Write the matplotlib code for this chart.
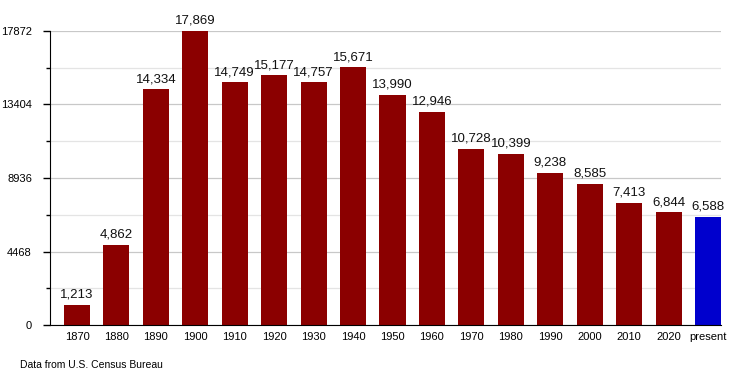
import matplotlib
matplotlib.use("Agg")
import matplotlib.pyplot as plt
from matplotlib.ticker import FixedLocator

years = ["1870", "1880", "1890", "1900", "1910", "1920", "1930", "1940", "1950",
         "1960", "1970", "1980", "1990", "2000", "2010", "2020", "present"]
population = [1213, 4862, 14334, 17869, 14749, 15177, 14757, 15671, 13990,
              12946, 10728, 10399, 9238, 8585, 7413, 6844, 6588]
major_ticks = [0, 4468, 8936, 13404, 17872]
minor_ticks = [2234, 6702, 11170, 15638]

plt.rcParams['font.family'] = ['Liberation Sans', 'DejaVu Sans']

fig = plt.figure(figsize=(7.5, 3.75), dpi=100)
ax = fig.add_axes([50/750, 50/375, 671/750, 294/375])

colors = ["#8b0000"] * (len(years) - 1) + ["#0000cd"]
x = list(range(len(years)))
ax.bar(x, population, width=0.66, color=colors, zorder=3)

for xi, v in zip(x, population):
    ax.text(xi, v + 250, f"{v:,}", ha="center", va="bottom", fontsize=9.5, color="#111")

ax.set_xlim(-0.685, len(years) - 1 + 0.33)
ax.set_ylim(0, 17872)
ax.yaxis.set_major_locator(FixedLocator(major_ticks))
ax.yaxis.set_minor_locator(FixedLocator(minor_ticks))
ax.set_yticklabels([str(t) for t in major_ticks], fontsize=8)
ax.set_xticks(x)
ax.set_xticklabels(years, fontsize=8)
ax.tick_params(axis="x", length=0, pad=5)
ax.tick_params(axis="y", which="major", length=5, width=1, pad=8)
ax.tick_params(axis="y", which="minor", length=3, width=1)

ax.grid(axis="y", which="major", color="#c8c8c8", linewidth=0.9, zorder=0)
ax.grid(axis="y", which="minor", color="#e4e4e4", linewidth=0.9, zorder=0)

for s in ["top", "right"]:
    ax.spines[s].set_visible(False)
ax.spines["left"].set_color("black")
ax.spines["bottom"].set_color("black")
ax.spines["left"].set_zorder(4)
ax.spines["bottom"].set_zorder(4)

fig.text(20/750, 1 - 365/375, "Data from U.S. Census Bureau", fontsize=7.5, va="center", ha="left")

fig.savefig("out.png", dpi=100)
